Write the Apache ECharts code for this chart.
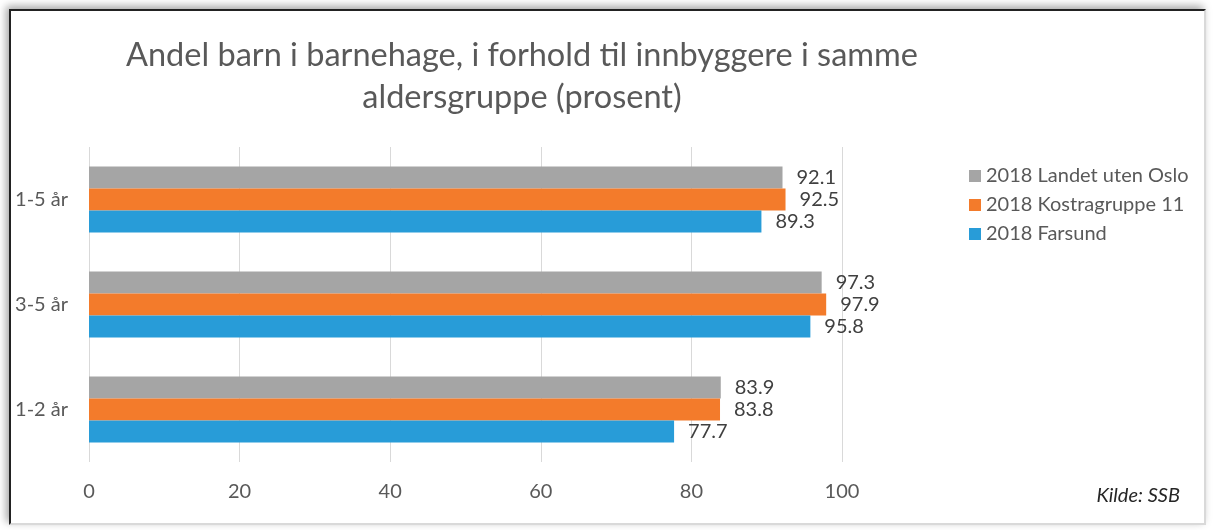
<!DOCTYPE html>
<html>
<head>
<meta charset="utf-8">
<script src="https://cdn.jsdelivr.net/npm/echarts@6/dist/echarts.min.js"></script>
<style>
html,body{margin:0;padding:0;background:#fff;}
#frame{position:absolute;left:9px;top:9px;width:1193px;height:512px;border-left:2px solid #222;border-top:2px solid #222;border-right:2px solid #d9d9d9;border-bottom:2px solid #d9d9d9;box-shadow:-3px -3px 8px rgba(0,0,0,0.35);background:#fff;}
#chart{position:absolute;left:0;top:0;width:1214px;height:530px;}
</style>
</head>
<body>
<div id="frame"></div>
<div id="chart"></div>
<script>
const titleText = 'Andel barn i barnehage, i forhold til innbyggere i samme\naldersgruppe (prosent)';
const categories = ['1-5 år', '3-5 år', '1-2 år'];
const seriesNames = ['2018 Landet uten Oslo', '2018 Kostragruppe 11', '2018 Farsund'];
const landetUtenOslo = [92.1, 97.3, 83.9];
const kostragruppe11 = [92.5, 97.9, 83.8];
const farsund = [89.3, 95.8, 77.7];
const xTicks = [0, 20, 40, 60, 80, 100];
const sourceText = 'Kilde: SSB';

const colors = ['#A5A5A5', '#F37B2B', '#289CD8'];
const values = [landetUtenOslo, kostragruppe11, farsund];
const font = 'Lato, "Open Sans", sans-serif';

const chart = echarts.init(document.getElementById('chart'));
chart.setOption({
  animation: false,
  title: {
    text: titleText,
    left: 517, top: 30, textAlign: 'center',
    textStyle: {fontFamily: font, fontSize: 32.5, fontWeight: 'normal', color: '#595959', lineHeight: 42}
  },
  legend: {
    orient: 'vertical', left: 964, top: 161, itemWidth: 12, itemHeight: 12, itemGap: 9,
    icon: 'rect',
    textStyle: {fontFamily: font, fontSize: 20, color: '#595959'},
    data: seriesNames
  },
  grid: {left: 89, right: 372, top: 147, bottom: 68, containLabel: false},
  xAxis: {
    type: 'value', min: xTicks[0], max: xTicks[xTicks.length-1], interval: 20,
    axisLine: {show: false}, axisTick: {show: false},
    splitLine: {lineStyle: {color: '#d9d9d9', width: 1}},
    axisLabel: {fontFamily: font, fontSize: 20, color: '#595959', margin: 20}
  },
  yAxis: {
    type: 'category', inverse: true, data: categories,
    axisLine: {show: false}, axisTick: {show: false},
    axisLabel: {fontFamily: font, fontSize: 20, color: '#595959', margin: 21}
  },
  graphic: [{
    type: 'text', right: 34, top: 486,
    style: {text: sourceText, font: 'italic 20px ' + font, fill: '#262626'}
  }],
  series: seriesNames.map((n, i) => ({
    name: n, type: 'bar', data: values[i], barWidth: 22, barGap: '0%',
    itemStyle: {color: colors[i]},
    label: {show: true, position: 'right', distance: 14, fontFamily: font, fontSize: 20, color: '#404040',
      formatter: p => p.value.toFixed(1)}
  }))
});
</script>
</body>
</html>
